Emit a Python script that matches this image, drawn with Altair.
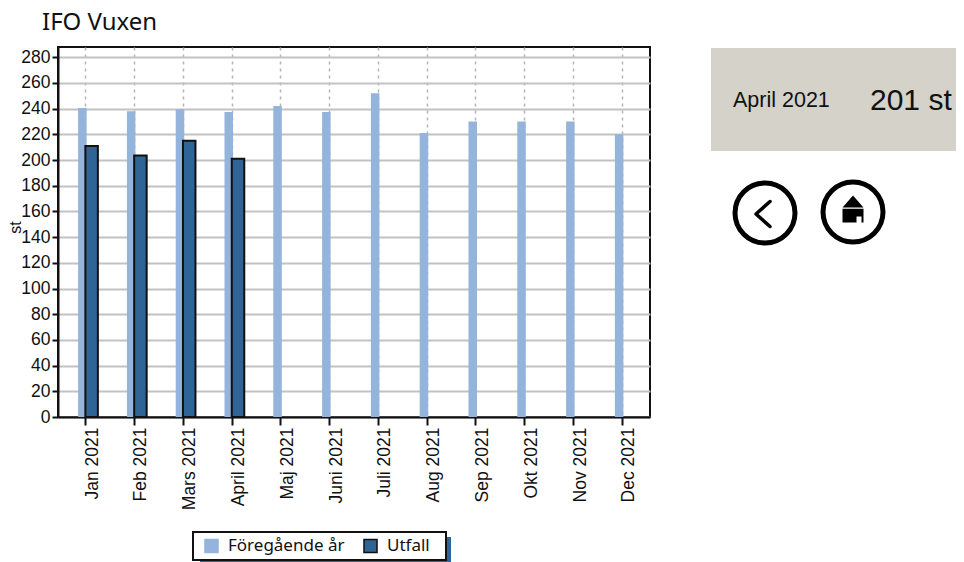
import altair as alt
import pandas as pd

months = ["Jan 2021", "Feb 2021", "Mars 2021", "April 2021", "Maj 2021", "Juni 2021",
          "Juli 2021", "Aug 2021", "Sep 2021", "Okt 2021", "Nov 2021", "Dec 2021"]
previous = [240.5, 238, 239.5, 237.5, 242, 237.5, 252, 221, 230, 230, 230, 220]
actual = [211, 203.5, 215, 201]
series = ["Föregående år", "Utfall"]
panel_label = ["April 2021"]
panel_value = ["201 st"]
y_ticks = list(range(0, 281, 20))

LIGHT = "#94b4dc"
DARK = "#2f6496"
BLACK = "#111111"
SANS = "Liberation Sans"
HUMAN = "Noto Sans"

prev_df = pd.DataFrame({"month": months, "value": previous, "serie": series[0]})
act_df = pd.DataFrame({"month": months[:4], "value": actual, "serie": series[1]})
one = pd.DataFrame({"a": [1]})

xenc = alt.X("month:N", sort=months, title=None,
             scale=alt.Scale(paddingInner=0, paddingOuter=0.066),
             axis=alt.Axis(labelAngle=270, labelFontSize=17.5, labelFont=SANS, labelColor=BLACK,
                           labelOffset=7, labelPadding=2, tickSize=8, tickWidth=2, tickColor=BLACK,
                           domainColor=BLACK, domainWidth=2,
                           grid=True, gridColor="#b4b4b4", gridDash=[3, 4], gridWidth=1.5))
yenc = alt.Y("value:Q", title="st",
             scale=alt.Scale(domain=[0, 288], nice=False),
             axis=alt.Axis(values=y_ticks, labelFontSize=17.5, labelFont=SANS, labelColor=BLACK,
                           labelPadding=2, tickSize=6, tickWidth=2, tickColor=BLACK,
                           domainColor=BLACK, domainWidth=2,
                           grid=True, gridColor="#c2c2c2", gridWidth=2,
                           titleFont=SANS, titleFontSize=16, titleFontWeight="normal",
                           titleColor=BLACK, titleX=-35, titleY=180))
fill_enc = alt.Fill("serie:N", scale=alt.Scale(domain=series, range=[LIGHT, DARK]),
                    legend=alt.Legend(title=None, orient="none", legendX=141, legendY=486,
                                      direction="horizontal", columns=2,
                                      padding=4, columnPadding=15,
                                      labelFont=HUMAN, labelFontSize=17, labelColor=BLACK,
                                      symbolType="square", symbolSize=170, symbolStrokeWidth=1.5,
                                      labelOffset=8))
stroke_enc = alt.Stroke("serie:N", scale=alt.Scale(domain=series, range=[LIGHT, BLACK]), legend=None)

shadow = alt.Chart(one).mark_rect(color=DARK).encode(
    x=alt.value(142), x2=alt.value(393), y=alt.value(490), y2=alt.value(515))
box = alt.Chart(one).mark_rect(fill="white", stroke=BLACK, strokeWidth=2).encode(
    x=alt.value(135), x2=alt.value(388), y=alt.value(485), y2=alt.value(513))
light = alt.Chart(prev_df).mark_bar(width=8.5, xOffset=-3.25, strokeWidth=0).encode(
    x=xenc, y=yenc, fill=fill_enc, stroke=stroke_enc)
dark = alt.Chart(act_df).mark_bar(width=12.5, xOffset=6, strokeWidth=2).encode(
    x=xenc, y=yenc, fill=fill_enc, stroke=stroke_enc)

panel = alt.Chart(one).mark_rect(color="#d4d2c9").encode(
    x=alt.value(653), x2=alt.value(898), y=alt.value(1), y2=alt.value(104))
t1 = alt.Chart(pd.DataFrame({"t": panel_label})).mark_text(
    font=SANS, fontSize=21.5, align="left", baseline="middle", color=BLACK).encode(
    x=alt.value(675), y=alt.value(54), text="t:N")
t2 = alt.Chart(pd.DataFrame({"t": panel_value})).mark_text(
    font=SANS, fontSize=30, align="left", baseline="middle", color=BLACK).encode(
    x=alt.value(812), y=alt.value(54), text="t:N")

ring1 = alt.Chart(one).mark_point(shape="circle", size=3600, filled=False, strokeWidth=5, color="black", opacity=1).encode(
    x=alt.value(707), y=alt.value(166))
ring2 = alt.Chart(one).mark_point(shape="circle", size=3600, filled=False, strokeWidth=5, color="black", opacity=1).encode(
    x=alt.value(795), y=alt.value(165))
chevron = alt.Chart(one).mark_point(
    shape="M0.28,-0.5L-0.28,0L0.28,0.5", size=2500, filled=False, strokeWidth=3.5,
    color="black", opacity=1, strokeCap="round", strokeJoin="round").encode(
    x=alt.value(705), y=alt.value(167))
home = alt.Chart(one).mark_point(
    shape="M0,-0.54L0.42,-0.06L-0.42,-0.06Z M-0.42,-0.01L0.42,-0.01L0.42,0.54L0.34,0.54L0.34,0.3L0.14,0.3L0.14,0.54L-0.42,0.54Z",
    size=2500, filled=True, color="black", opacity=1, strokeWidth=0).encode(
    x=alt.value(795), y=alt.value(162))

layers = alt.layer(shadow, box, light, dark, panel, t1, t2, ring1, ring2, chevron, home).properties(
    width=592, height=370,
    title=alt.TitleParams("IFO Vuxen", anchor="start", frame="group", font=HUMAN, fontSize=24,
                          fontWeight="normal", color=BLACK, dx=-16, offset=12),
    autosize=alt.AutoSizeParams(type="none"),
    padding={"left": 50, "top": 39, "right": 306, "bottom": 145},
)
chart = layers.configure_view(stroke=BLACK, strokeWidth=2)
chart.save("out.html", embed_options={"renderer": "svg", "actions": False})
